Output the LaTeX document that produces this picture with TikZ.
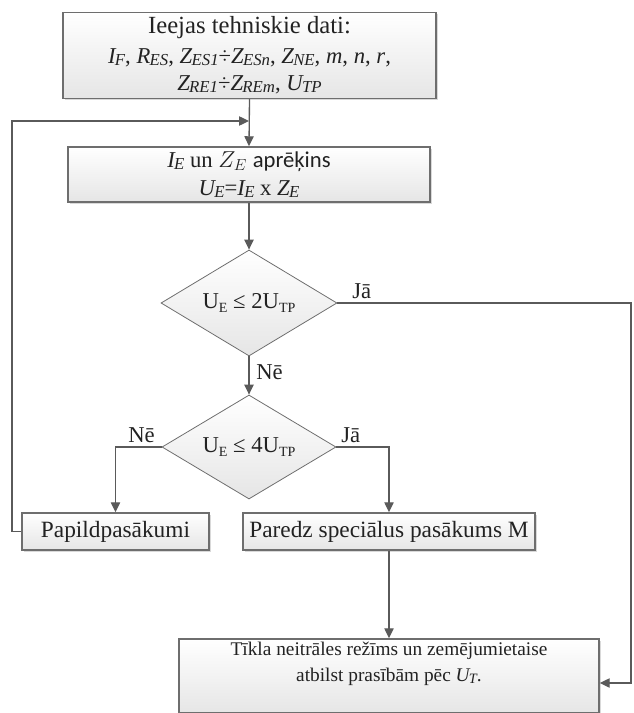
\documentclass[tikz,border=0pt]{standalone}
\usepackage{fontspec}
\usepackage{graphicx}
\setmainfont{Liberation Serif}
\newfontfamily\calib{Carlito}
\usetikzlibrary{arrows.meta,shapes.geometric,shadows}
\definecolor{linec}{HTML}{5A5A5A}
\definecolor{bordc}{HTML}{6E6E6E}
\definecolor{txtc}{HTML}{222222}
\newcommand\vsub[2]{\textit{#1\kern-0.5pt\raisebox{-0.08em}{\scalebox{0.74}{#2}}}}
\newcommand\usub[2]{#1\raisebox{-0.15em}{\scalebox{0.62}{#2}}}
\newcommand\fs[1]{\fontsize{#1}{1.2\dimexpr#1pt\relax}\selectfont}
\tikzset{
  box/.style={draw=bordc, line width=1.1pt, top color=white, bottom color=black!10,
    drop shadow={shadow xshift=1.2pt, shadow yshift=-1.2pt, fill=black!25, opacity=0.6},
    inner sep=0pt, align=center, text=txtc},
  dec/.style={draw=bordc, line width=0.6pt, shape=diamond, aspect=1.66, inner sep=0pt,
    top color=white, bottom color=black!10, text=txtc, font=\fs{17}},
  conn/.style={draw=linec, line width=1pt},
  arr/.style={conn, -{Triangle[length=7.5pt,width=7pt]}},
  lbl/.style={text=txtc, font=\fs{17}, inner sep=0pt}
}
\begin{document}
\begin{tikzpicture}[x=0.75pt,y=-0.75pt]
\useasboundingbox (0,0) rectangle (633,713);
\node[box, minimum width=279.75pt, minimum height=64.5pt, font=\fontsize{17}{20.5}\selectfont] (top) at (249.5,55.5)
  {{\fontsize{18.5}{22}\selectfont Ieejas tehniskie dati:}\\[1.5pt]
   \vsub{I}{F}, \vsub{R}{ES}, \vsub{Z}{ES1}÷\vsub{Z}{ESn}, \vsub{Z}{NE}, \textit{m}, \textit{n}, \textit{r},\\
   \vsub{Z}{RE1}÷\vsub{Z}{REm}, \vsub{U}{TP}};
\node[box, minimum width=271.5pt, minimum height=41.25pt, font=\fontsize{17}{21}\selectfont] (calc) at (249,174.5)
  {\vsub{I}{E} un $Z_E$ {\calib aprēķins}\\
   \vsub{U}{E}=\vsub{I}{E} x \vsub{Z}{E}};
\node[dec, minimum width=132pt, minimum height=79.5pt] (d1) at (249,303)
  {\usub{U}{E} ≤ 2\usub{U}{TP}};
\node[dec, minimum width=130.5pt, minimum height=78pt] (d2) at (249,447)
  {\usub{U}{E} ≤ 4\usub{U}{TP}};
\node[box, minimum width=140.25pt, minimum height=27.75pt, font=\fs{17.5}] (pap) at (115.5,531.5)
  {Papildpasākumi};
\node[box, minimum width=219pt, minimum height=27.75pt, font=\fs{17.5}] (par) at (389,531.5)
  {Paredz speciālus pasākums M};
\node[box, minimum width=315pt, minimum height=55.5pt] (fin) at (389,676) {};
\node[align=center, text=txtc, inner sep=0pt, font=\fontsize{14.5}{19.5}\selectfont] (fintxt) at (389,664)
  {Tīkla neitrāles režīms un zemējumietaise\\ atbilst prasībām pēc \vsub{U}{T}.};
\coordinate (join) at (249,121);
\coordinate (lft) at (12,531.5);
\coordinate (rgt) at (631,683);
\draw[arr] (top.south) -- (calc.north);
\draw[arr] (pap.west) -- (lft) |- (join);
\draw[arr] (calc.south) -- (d1.north);
\draw[arr] (d1.south) -- (d2.north);
\draw[arr] (d1.east) -| (rgt) -- (rgt -| fin.east);
\draw[arr] (d2.west) -| (pap.north);
\draw[arr] (d2.east) -| (par.north);
\draw[arr] (par.south) -- (fin.north);
\node[lbl, anchor=south west] (l1) at (352,299) {Jā};
\node[lbl, anchor=north west] (l2) at (256,364) {Nē};
\node[lbl, anchor=south east] (l3) at (155,443) {Nē};
\node[lbl, anchor=south west] (l4) at (341,443) {Jā};
\end{tikzpicture}
\end{document}
